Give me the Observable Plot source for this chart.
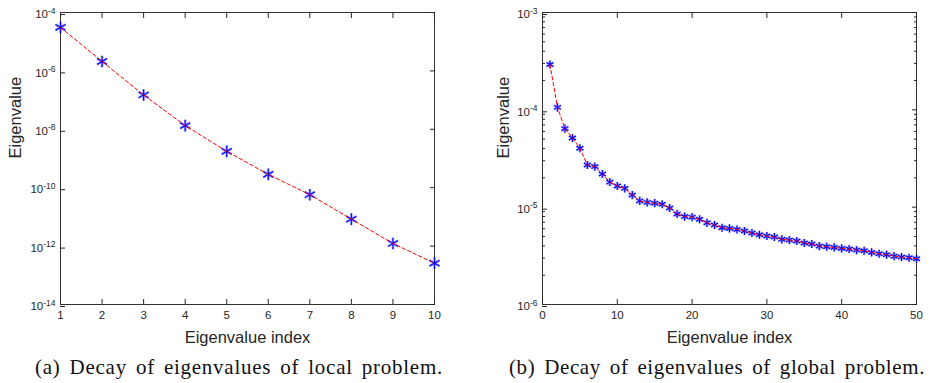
<!DOCTYPE html>
<html><head><meta charset="utf-8">
<script src="https://cdn.jsdelivr.net/npm/d3@7"></script>
<script src="https://cdn.jsdelivr.net/npm/@observablehq/plot@0.6"></script>
<style>
body{margin:0;background:#fff;width:933px;height:383px;overflow:hidden;position:relative;font-family:"Liberation Sans",Arial,sans-serif}
#a{position:absolute;left:0;top:0}
#b{position:absolute;left:466px;top:0}
.cap{position:absolute;top:357px;line-height:20px;font-family:"Liberation Serif","Times New Roman",serif;font-size:21px;color:#111;white-space:nowrap}
</style></head><body>
<div id="a"></div><div id="b"></div>
<div class="cap" id="capA">(a) Decay of eigenvalues of local problem.</div>
<div class="cap" id="capB">(b) Decay of eigenvalues of global problem.</div>
<script>
// ---- data: local problem ----
const localIndex = [1, 2, 3, 4, 5, 6, 7, 8, 9, 10];
const localEigen = [3.1e-5, 2.1e-6, 1.5e-7, 1.34e-8, 1.76e-9, 2.86e-10, 5.75e-11, 8.4e-12, 1.23e-12, 2.6e-13];
const localXTicks = [1, 2, 3, 4, 5, 6, 7, 8, 9, 10];
const localYTicks = [1e-14, 1e-12, 1e-10, 1e-8, 1e-6, 1e-4];
const localYTickLabels = ["10^-14", "10^-12", "10^-10", "10^-8", "10^-6", "10^-4"];

// ---- data: global problem ----
const globalIndex = [1,2,3,4,5,6,7,8,9,10,11,12,13,14,15,16,17,18,19,20,21,22,23,24,25,26,27,28,29,30,31,32,33,34,35,36,37,38,39,40,41,42,43,44,45,46,47,48,49,50];
const globalEigen = [
  2.92e-4, 1.06e-4, 6.41e-5, 5.14e-5, 4.03e-5, 2.71e-5, 2.61e-5, 2.19e-5, 1.81e-5, 1.65e-5,
  1.56e-5, 1.33e-5, 1.16e-5, 1.12e-5, 1.10e-5, 1.07e-5, 9.8e-6, 8.5e-6, 8.0e-6, 7.9e-6,
  7.5e-6, 6.9e-6, 6.55e-6, 6.15e-6, 6.05e-6, 5.9e-6, 5.69e-6, 5.42e-6, 5.21e-6, 5.05e-6,
  4.93e-6, 4.67e-6, 4.59e-6, 4.49e-6, 4.28e-6, 4.18e-6, 3.98e-6, 3.92e-6, 3.86e-6, 3.77e-6,
  3.71e-6, 3.62e-6, 3.57e-6, 3.43e-6, 3.32e-6, 3.24e-6, 3.14e-6, 3.07e-6, 3.02e-6, 2.95e-6];
const globalXTicks = [0, 10, 20, 30, 40, 50];
const globalYTicks = [1e-6, 1e-5, 1e-4, 1e-3];
const globalYTickLabels = ["10^-6", "10^-5", "10^-4", "10^-3"];
const globalYMinorTicks = [2e-6,3e-6,4e-6,5e-6,6e-6,7e-6,8e-6,9e-6,2e-5,3e-5,4e-5,5e-5,6e-5,7e-5,8e-5,9e-5,2e-4,3e-4,4e-4,5e-4,6e-4,7e-4,8e-4,9e-4];

const xLabel = "Eigenvalue index";
const yLabel = "Eigenvalue";

const localData = localIndex.map((x, i) => ({x, y: localEigen[i]}));
const globalData = globalIndex.map((x, i) => ({x, y: globalEigen[i]}));

const axisColor = "#262626";
const baseStyle = {fontFamily: "'Liberation Sans', Arial, sans-serif", fontSize: "11.5px", color: axisColor, background: "white", overflow: "visible"};

function makeChart({data, width, marginLeft, marginRight, xDomain, yDomain, xTicks, yTicks, yTickLabels, yMinor, yLabelDx, rMain, big}) {
  const labelMap = new Map(yTicks.map((t, i) => [t, yTickLabels[i]]));
  const marks = [
    Plot.frame({stroke: "#333", strokeWidth: 1}),
    Plot.axisX({anchor: "bottom", ticks: xTicks, tickSize: -5, tickPadding: 11, tickFormat: d => String(d), label: null, stroke: axisColor}),
    Plot.axisX({anchor: "top", ticks: xTicks, tickSize: -5, tickFormat: () => "", label: null, stroke: axisColor}),
    Plot.axisY({anchor: "left", ticks: yTicks, tickSize: -5, tickPadding: 10, dy: 2, tickFormat: d => labelMap.get(d), label: null, stroke: axisColor}),
    Plot.axisY({anchor: "right", ticks: yTicks, tickSize: -5, tickFormat: () => "", label: null, stroke: axisColor})
  ];
  if (yMinor) {
    marks.push(Plot.axisY({anchor: "left", ticks: yMinor, tickSize: -3, tickFormat: () => "", label: null, stroke: axisColor}));
    marks.push(Plot.axisY({anchor: "right", ticks: yMinor, tickSize: -3, tickFormat: () => "", label: null, stroke: axisColor}));
  }
  marks.push(
    Plot.text([xLabel], {frameAnchor: "bottom", dy: 33, lineAnchor: "middle", text: d => d, fontSize: 16.5, fill: axisColor}),
    Plot.text([yLabel], {frameAnchor: "left", dx: yLabelDx, lineAnchor: "middle", rotate: -90, text: d => d, fontSize: 16.5, fill: axisColor}),
    Plot.dot(data, {x: "x", y: "y", symbol: "asterisk", r: rMain, stroke: "#5a5aff", strokeWidth: big ? 2.6 : 2.4, strokeOpacity: 0.55}),
    Plot.dot(data, {x: "x", y: "y", symbol: "asterisk", r: rMain, stroke: "#0000ff", strokeWidth: 1.1}),
    Plot.line(data, {x: "x", y: "y", stroke: "#ff0000", strokeWidth: 1, strokeDasharray: "3.5,2.5"})
  );
  return Plot.plot({
    width, height: 345,
    marginLeft, marginRight, marginTop: 12, marginBottom: 41,
    style: baseStyle,
    x: {domain: xDomain},
    y: {type: "log", domain: yDomain},
    marks
  });
}

const chartA = makeChart({
  data: localData, width: 466, marginLeft: 60, marginRight: 32,
  xDomain: [1, 10], yDomain: [1e-14, 1e-4], xTicks: localXTicks,
  yTicks: localYTicks, yTickLabels: localYTickLabels, yMinor: null, yLabelDx: -45, rMain: 5.5, big: true
});
const chartB = makeChart({
  data: globalData, width: 467, marginLeft: 76, marginRight: 17,
  xDomain: [0, 50], yDomain: [1e-6, 1e-3], xTicks: globalXTicks,
  yTicks: globalYTicks, yTickLabels: globalYTickLabels, yMinor: globalYMinorTicks, yLabelDx: -39, rMain: 3.8, big: false
});
document.getElementById("a").append(chartA);
document.getElementById("b").append(chartB);

// render "10^-k" tick labels with a real superscript
for (const svg of [chartA, chartB]) {
  for (const t of svg.querySelectorAll("text")) {
    const m = /^10\^(-?\d+)$/.exec(t.textContent);
    if (!m) continue;
    t.textContent = "10";
    const s = document.createElementNS("http://www.w3.org/2000/svg", "tspan");
    s.setAttribute("dy", "-0.55em");
    s.setAttribute("font-size", "8.5px");
    s.textContent = m[1];
    t.appendChild(s);
  }
}

// captions: fit to the reference width (extra room goes mostly to word gaps)
function fitCaption(id, left, right) {
  const el = document.getElementById(id);
  const w = el.getBoundingClientRect().width;
  const txt = el.textContent;
  const spaces = (txt.match(/ /g) || []).length;
  const extra = (right - left) - w;
  const ws = Math.max(0, Math.min(3, extra * 0.6 / spaces));
  const ls = (extra - ws * spaces) / txt.length;
  el.style.wordSpacing = ws + "px";
  el.style.letterSpacing = ls + "px";
  el.style.left = left + "px";
}
fitCaption("capA", 35, 443);
fitCaption("capB", 509, 925);
</script>
</body></html>
